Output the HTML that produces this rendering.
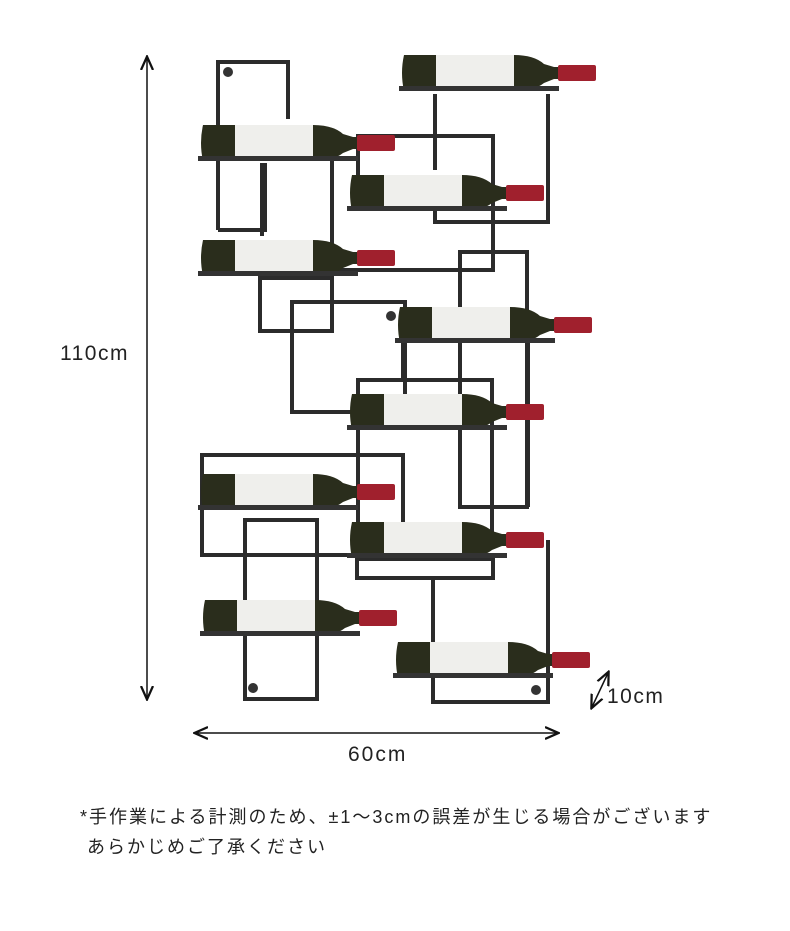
<!DOCTYPE html>
<html><head><meta charset="utf-8"><style>
body{margin:0;background:#fff;width:790px;height:931px;overflow:hidden;font-family:"Liberation Sans","Noto Sans CJK JP",sans-serif;}
svg{position:absolute;left:0;top:0}
.t{position:absolute;color:#222;white-space:nowrap}
</style></head><body>
<svg width="790" height="931">
<defs>
<marker id="a" markerWidth="10" markerHeight="10" refX="8" refY="5" orient="auto-start-reverse"><path d="M0,1 L9,5 L0,9" fill="none" stroke="#111" stroke-width="1.5"/></marker>
<g id="b">
 <path d="M0,-18 L110,-18 Q130,-18 140,-9 L150,-6 L155,-6 L155,6 L150,6 L140,10 Q130,18 110,18 L0,18 Q-4,0 0,-18Z" fill="#2a2d1c"/>
 <rect x="32" y="-18" width="78" height="36" fill="#efefec"/>
 <rect x="154" y="-8" width="38" height="16" rx="2" fill="#a0202d"/>
 <rect x="-5" y="13" width="160" height="5" fill="#333"/>
</g>
</defs>
<g fill="none" stroke="#2b2b2b" stroke-width="4">
 <path d="M218,230 V62 H288 V119"/><path d="M218,230 H265 V163"/>
 <path d="M262,163 V236"/>
 <path d="M332,153 V331 H260 V278 H333"/>
 <rect x="292" y="302" width="113" height="110"/>
 <path d="M358,175 V136 H493 V270 H335"/>
 <path d="M435,170 V94"/><path d="M548,94 V222 H435 V205"/>
 <rect x="460" y="252" width="67" height="255"/>
 <path d="M358,550 V380 H492 V538"/>
 <path d="M403,380 V340 M528,340 V507"/>
 <rect x="202" y="455" width="201" height="100"/>
 <rect x="245" y="520" width="72" height="179"/>
 <rect x="357" y="559" width="136" height="19"/>
 <path d="M433,578 V702 H548 V540"/>
</g>
<circle cx="228" cy="72" r="5" fill="#333"/><circle cx="391" cy="316" r="5" fill="#333"/><circle cx="253" cy="688" r="5" fill="#333"/><circle cx="536" cy="690" r="5" fill="#333"/>
<use href="#b" x="404" y="73"/>
<use href="#b" x="203" y="143"/>
<use href="#b" x="352" y="193"/>
<use href="#b" x="203" y="258"/>
<use href="#b" x="400" y="325"/>
<use href="#b" x="352" y="412"/>
<use href="#b" x="203" y="492"/>
<use href="#b" x="352" y="540"/>
<use href="#b" x="205" y="618"/>
<use href="#b" x="398" y="660"/>
<g stroke="#111" stroke-width="1.5">
<line x1="147" y1="58" x2="147" y2="698" marker-start="url(#a)" marker-end="url(#a)"/>
<line x1="196" y1="733" x2="557" y2="733" marker-start="url(#a)" marker-end="url(#a)"/>
<line x1="592" y1="707" x2="608" y2="673" marker-start="url(#a)" marker-end="url(#a)"/>
</g>
</svg>
<div class="t" style="left:60px;top:342px;font-size:21px;letter-spacing:1.5px">110cm</div>
<div class="t" style="left:348px;top:743px;font-size:21px;letter-spacing:2px">60cm</div>
<div class="t" style="left:607px;top:685px;font-size:21px;letter-spacing:1.5px">10cm</div>
<div class="t" style="left:80px;top:802px;font-size:18px;line-height:30px;letter-spacing:2px">*手作業による計測のため、±1～3cmの誤差が生じる場合がございます<br>&nbsp;あらかじめご了承ください</div>
</body></html>
